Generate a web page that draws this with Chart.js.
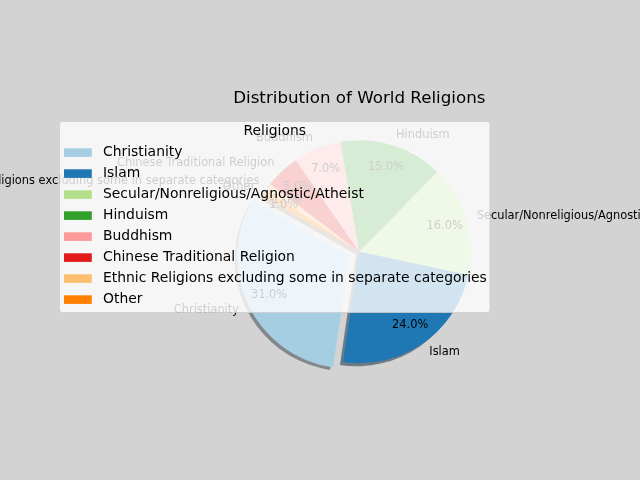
<!DOCTYPE html>
<html><head><meta charset="utf-8">
<script src="https://cdn.jsdelivr.net/npm/chart.js@4/dist/chart.umd.min.js"></script>
<style>html,body{margin:0;padding:0;background:#d3d3d3;overflow:hidden;}</style>
</head><body>
<canvas id="c" width="640" height="480"></canvas>
<script>
const categories = ["Christianity", "Islam", "Secular/Nonreligious/Agnostic/Atheist", "Hinduism", "Buddhism", "Chinese Traditional Religion", "Ethnic Religions excluding some in separate categories", "Other"];
const shares = [31, 24, 16, 15, 7, 5, 1, 1];
const explodedCategory = "Christianity";
const palette = ["#a6cee3", "#1f78b4", "#b2df8a", "#33a02c", "#fb9a99", "#e31a1c", "#fdbf6f", "#ff7f00"];
const chartTitle = "Distribution of World Religions";
const legendTitle = "Religions";

const FONT = "'DejaVu Sans', 'Liberation Sans', sans-serif";
// Chart.js draws clockwise; matplotlib counterclockwise -> reverse the order for drawing
const order = categories.map((_, i) => i).reverse();

function hexToRgb(h) {
  const n = parseInt(h.slice(1), 16);
  return [(n >> 16) & 255, (n >> 8) & 255, n & 255];
}

const bgPlugin = {
  id: 'bg',
  beforeDraw(chart) {
    const ctx = chart.ctx;
    ctx.save();
    ctx.fillStyle = '#d3d3d3';
    ctx.fillRect(0, 0, chart.width, chart.height);
    ctx.restore();
  }
};

function arcGeom(arc) {
  const p = arc.getProps(['x', 'y', 'startAngle', 'endAngle', 'outerRadius'], true);
  const off = (arc.options.offset || 0) / 4;
  const mid = (p.startAngle + p.endAngle) / 2;
  return {
    cx: p.x + Math.cos(mid) * off,
    cy: p.y + Math.sin(mid) * off,
    r: p.outerRadius, s: p.startAngle, e: p.endAngle, mid
  };
}

const shadowPlugin = {
  id: 'shadow',
  beforeDatasetsDraw(chart) {
    const ctx = chart.ctx;
    const meta = chart.getDatasetMeta(0);
    const ds = chart.data.datasets[0];
    ctx.save();
    meta.data.forEach((arc, j) => {
      const g = arcGeom(arc);
      const rgb = hexToRgb(ds.backgroundColor[j]).map(v => Math.round(v * 0.3));
      const cx = g.cx - 3.1, cy = g.cy + 3.1;
      ctx.beginPath();
      ctx.moveTo(cx, cy);
      ctx.arc(cx, cy, g.r, g.s, g.e);
      ctx.closePath();
      ctx.fillStyle = `rgba(${rgb[0]},${rgb[1]},${rgb[2]},0.5)`;
      ctx.fill();
    });
    ctx.restore();
  }
};

const labelPlugin = {
  id: 'labels',
  afterDatasetsDraw(chart) {
    const ctx = chart.ctx;
    const meta = chart.getDatasetMeta(0);
    const ds = chart.data.datasets[0];
    const total = ds.data.reduce((a, b) => a + b, 0);
    ctx.save();
    ctx.fillStyle = '#000';
    ctx.textBaseline = 'middle';
    ctx.font = `11.4px ${FONT}`;
    meta.data.forEach((arc, j) => {
      const g = arcGeom(arc);
      const c = Math.cos(g.mid), s = Math.sin(g.mid);
      // category label at 1.1 r
      const lx = g.cx + c * g.r * 1.1, ly = g.cy + s * g.r * 1.1;
      ctx.textAlign = c > 0 ? 'left' : 'right';
      ctx.fillText(chart.data.labels[j], lx, ly);
      // percentage at 0.8 r
      const px = g.cx + c * g.r * 0.8, py = g.cy + s * g.r * 0.8;
      ctx.textAlign = 'center';
      ctx.fillText((ds.data[j] / total * 100).toFixed(1) + '%', px, py);
    });
    ctx.restore();
  }
};

function roundRect(ctx, x, y, w, h, r) {
  ctx.beginPath();
  ctx.moveTo(x + r, y);
  ctx.lineTo(x + w - r, y);
  ctx.quadraticCurveTo(x + w, y, x + w, y + r);
  ctx.lineTo(x + w, y + h - r);
  ctx.quadraticCurveTo(x + w, y + h, x + w - r, y + h);
  ctx.lineTo(x + r, y + h);
  ctx.quadraticCurveTo(x, y + h, x, y + h - r);
  ctx.lineTo(x, y + r);
  ctx.quadraticCurveTo(x, y, x + r, y);
  ctx.closePath();
}

const legendPlugin = {
  id: 'mplLegend',
  afterDraw(chart) {
    const ctx = chart.ctx;
    const bx = 59.5, by = 121.5, bw = 430.5, bh = 191;
    ctx.save();
    roundRect(ctx, bx, by, bw, bh, 2.8);
    ctx.fillStyle = 'rgba(255,255,255,0.8)';
    ctx.fill();
    ctx.lineWidth = 1;
    ctx.strokeStyle = 'rgba(204,204,204,0.8)';
    ctx.stroke();
    ctx.font = `13.9px ${FONT}`;
    ctx.fillStyle = '#000';
    ctx.textBaseline = 'middle';
    ctx.textAlign = 'center';
    ctx.fillText(legendTitle, bx + bw / 2, 131.5);
    ctx.textAlign = 'left';
    categories.forEach((name, i) => {
      const y = 152.5 + 21 * i;
      ctx.fillStyle = palette[i];
      ctx.fillRect(64, y - 4.2, 27.8, 8.6);
      ctx.fillStyle = '#000';
      ctx.fillText(name, 103, y);
    });
    ctx.restore();
  }
};

const ordered = order.map(i => shares[i]);
new Chart(document.getElementById('c'), {
  type: 'pie',
  data: {
    labels: order.map(i => categories[i]),
    datasets: [{
      data: ordered,
      backgroundColor: order.map(i => palette[i]),
      borderWidth: 0,
      offset: order.map(i => categories[i] === explodedCategory ? 44 : 0),
      hoverOffset: 0,
      clip: false
    }]
  },
  options: {
    responsive: false,
    animation: false,
    events: [],
    rotation: -60,
    radius: 111.5,
    layout: { padding: { left: 229.3, right: 150.7, top: 88.5, bottom: 98.3 } },
    plugins: {
      legend: { display: false },
      tooltip: { enabled: false },
      title: {
        display: true,
        text: chartTitle,
        color: '#000',
        font: { family: FONT, size: 16.7, weight: 'normal', lineHeight: 1.2 },
        padding: { top: 0, bottom: 13.2 }
      }
    }
  },
  plugins: [bgPlugin, shadowPlugin, labelPlugin, legendPlugin]
});
</script>
</body></html>
